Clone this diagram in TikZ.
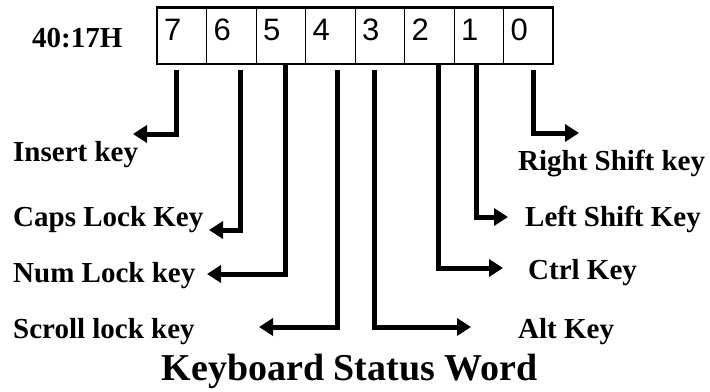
\documentclass[tikz,border=0pt]{standalone}
\usepackage{fontspec}
\setmainfont{Liberation Serif}
\newfontfamily\digitfont{Liberation Sans}
\usetikzlibrary{arrows.meta}
\begin{document}
\begin{tikzpicture}[x=1bp,y=-1bp,
  lbl/.style={font=\fontsize{29bp}{34bp}\selectfont\bfseries, inner sep=0, anchor=base west},
  cell/.style={draw, line width=0.8bp, minimum width=49.5bp, minimum height=56.5bp, inner sep=0, outer sep=0, anchor=north west},
  digit/.style={font=\digitfont\fontsize{31bp}{35bp}\selectfont, inner sep=0, anchor=base west},
  conn/.style={line width=5bp, -{Triangle[length=14bp,width=17bp]}}]
\useasboundingbox (0,0) rectangle (710,391);
\foreach \b [count=\i from 0] in {7,6,5,4,3,2,1,0} {
  \node[cell] (b\b) at ({157+49.5*\i},7.5) {};
  \node[digit] (d\b) at ({164+49.5*\i},40) {\b};
}
\draw[line width=2.5bp] (b7.north west) rectangle (b0.south east);
\node[lbl] (addr) at (32,47) {40:17H};
\node[lbl] (ins) at (13,161) {Insert key};
\node[lbl] (caps) at (13,226) {Caps Lock Key};
\node[lbl] (num) at (13,282) {Num Lock key};
\node[lbl] (scr) at (13,338) {Scroll lock key};
\node[lbl] (rsh) at (518,170) {Right Shift key};
\node[lbl] (lsh) at (525,226) {Left Shift Key};
\node[lbl] (ctrl) at (528,279) {Ctrl Key};
\node[lbl] (alt) at (518,338) {Alt Key};
\node[font=\fontsize{38bp}{44bp}\selectfont\bfseries, inner sep=0, anchor=base] (title) at (349.5,380) {Keyboard Status Word};
\coordinate (t7) at (133,134);
\coordinate (t6) at (209,230);
\coordinate (t5) at (207,274);
\coordinate (t4) at (259,327);
\coordinate (t3) at (471,327);
\coordinate (t2) at (503,268);
\coordinate (t1) at (508,217);
\coordinate (t0) at (579,133);
\draw[conn] ([xshift=-5bp,yshift=-6bp]b7.south) |- (t7);
\draw[conn] ([xshift=9bp,yshift=-6bp]b6.south) |- (t6);
\draw[conn] ([xshift=5bp]b5.south) |- (t5);
\draw[conn] ([xshift=7bp,yshift=-6bp]b4.south) |- (t4);
\draw[conn] ([xshift=-5bp,yshift=-6bp]b3.south) |- (t3);
\draw[conn] ([xshift=9bp]b2.south) |- (t2);
\draw[conn] ([xshift=-2bp]b1.south) |- (t1);
\draw[conn] ([xshift=5bp,yshift=-6bp]b0.south) |- (t0);
\end{tikzpicture}
\end{document}
